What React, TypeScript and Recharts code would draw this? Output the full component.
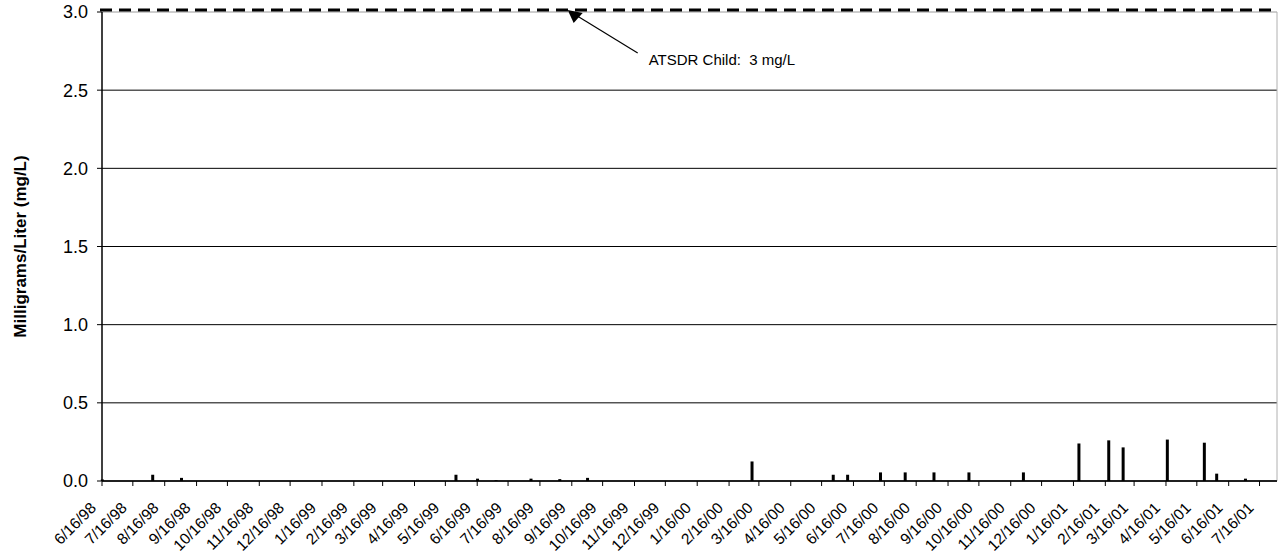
import React from 'react'
import {
  BarChart,
  Bar,
  XAxis,
  YAxis,
  CartesianGrid,
  ReferenceLine,
  ReferenceDot,
} from 'recharts'

// sampling dates (M/D/YY) and measured concentrations, mg/L
const sampleDates = [
  '6/16/98', '8/4/98', '9/1/98', '5/26/99', '6/16/99', '7/4/99', '8/7/99', '9/4/99',
  '10/1/99', '3/9/00', '5/27/00', '6/10/00', '7/12/00', '8/5/00', '9/2/00', '10/6/00',
  '11/28/00', '1/21/01', '2/19/01', '3/5/01', '4/17/01', '5/23/01', '6/4/01', '7/2/01',
]
const concentrations = [
  0.01, 0.04, 0.02, 0.04, 0.015, 0.005, 0.015, 0.012,
  0.02, 0.125, 0.04, 0.04, 0.055, 0.055, 0.055, 0.055,
  0.055, 0.24, 0.26, 0.215, 0.265, 0.245, 0.047, 0.015,
]

const tickLabels = [
  '6/16/98', '7/16/98', '8/16/98', '9/16/98', '10/16/98', '11/16/98', '12/16/98',
  '1/16/99', '2/16/99', '3/16/99', '4/16/99', '5/16/99', '6/16/99', '7/16/99',
  '8/16/99', '9/16/99', '10/16/99', '11/16/99', '12/16/99',
  '1/16/00', '2/16/00', '3/16/00', '4/16/00', '5/16/00', '6/16/00', '7/16/00',
  '8/16/00', '9/16/00', '10/16/00', '11/16/00', '12/16/00',
  '1/16/01', '2/16/01', '3/16/01', '4/16/01', '5/16/01', '6/16/01', '7/16/01',
]
const axisStart = '6/16/98'
const axisEnd = '8/2/01'

const yTicks = [0, 0.5, 1.0, 1.5, 2.0, 2.5, 3.0]
const atsdrChild = 3
const atsdrArrowDate = '9/12/99'
const atsdrText = 'ATSDR Child:  3 mg/L'
const yLabel = 'Milligrams/Liter (mg/L)'

const FONT = '"Liberation Sans", Arial, sans-serif'
const TOP = 12

function toDay(s: string): number {
  const [m, d, y] = s.split('/').map(Number)
  return Date.UTC(y < 50 ? 2000 + y : 1900 + y, m - 1, d) / 86400000
}

const data = sampleDates.map((d, i) => ({ day: toDay(d), value: concentrations[i] }))
const tickDays = tickLabels.map(toDay)
const labelByDay: Record<number, string> = {}
tickLabels.forEach(l => { labelByDay[toDay(l)] = l })

function XTick({ x, y, payload }: any) {
  return (
    <g transform={`translate(${x - 5},${y + 21})`}>
      <text textAnchor="end" transform="rotate(-45)" fontSize={15.5} fill="#000" fontFamily={FONT}>
        {labelByDay[payload.value]}
      </text>
    </g>
  )
}

function YLabel({ viewBox }: any) {
  const cx = viewBox.x + 20
  const cy = viewBox.y + viewBox.height / 2
  return (
    <text
      x={cx}
      y={cy}
      transform={`rotate(-90, ${cx}, ${cy})`}
      textAnchor="middle"
      dominantBaseline="central"
      fontSize={17}
      fontWeight="bold"
      fill="#000"
      fontFamily={FONT}
    >
      {yLabel}
    </text>
  )
}

function DashedLimit(p: any) {
  return (
    <line
      x1={p.x1 - 2}
      y1={p.y1 - 2}
      x2={p.x2 + 1}
      y2={p.y2 - 2}
      stroke="#000"
      strokeWidth={3}
      strokeDasharray="12 7"
    />
  )
}

function Callout({ cx, cy }: any) {
  const tx = cx
  const ty = cy - 2
  return (
    <g>
      <line x1={tx + 8} y1={ty + 5} x2={tx + 70} y2={ty + 43} stroke="#000" strokeWidth={1.2} />
      <polygon points={`${tx},${ty} ${tx + 15},${ty + 3} ${tx + 6},${ty + 13}`} fill="#000" />
      <text x={tx + 81} y={ty + 55} fontSize={15} fill="#000" fontFamily={FONT} style={{ whiteSpace: 'pre' }}>
        {atsdrText}
      </text>
    </g>
  )
}

function GridLine(p: any) {
  return (
    <line
      key={p.key}
      x1={p.x1}
      y1={p.y1}
      x2={p.x2}
      y2={p.y2}
      stroke={p.y1 <= TOP + 1 ? '#9a9a9a' : '#000'}
      strokeWidth={1}
    />
  )
}

export default function App() {
  return (
    <div style={{ position: 'absolute', left: 0, top: 0, fontFamily: FONT }}>
      <BarChart
        width={1278}
        height={554}
        data={data}
        margin={{ top: TOP, right: 1, bottom: 0, left: 0 }}
      >
        <CartesianGrid vertical={false} horizontal={GridLine} />
        <XAxis
          dataKey="day"
          type="number"
          domain={[toDay(axisStart), toDay(axisEnd)]}
          ticks={tickDays}
          interval={0}
          tick={<XTick />}
          tickSize={5}
          tickMargin={2}
          tickLine={{ stroke: '#000' }}
          axisLine={{ stroke: '#000', strokeWidth: 1.5 }}
          height={73}
        />
        <YAxis
          domain={[0, 3]}
          ticks={yTicks}
          interval={0}
          tickFormatter={(v: number) => v.toFixed(1)}
          tick={{ fontSize: 18, fill: '#000', fontFamily: FONT }}
          tickSize={5}
          tickMargin={9}
          tickLine={{ stroke: '#000' }}
          axisLine={{ stroke: '#000', strokeWidth: 1.5 }}
          width={102}
          label={<YLabel />}
        />
        <ReferenceLine x={toDay(axisEnd)} stroke="#b0b0b0" ifOverflow="visible" />
        <Bar dataKey="value" fill="#000" barSize={3} isAnimationActive={false} />
        <ReferenceLine y={atsdrChild} shape={DashedLimit} ifOverflow="visible" />
        <ReferenceDot x={toDay(atsdrArrowDate)} y={atsdrChild} r={1} shape={Callout} ifOverflow="visible" />
      </BarChart>
    </div>
  )
}
